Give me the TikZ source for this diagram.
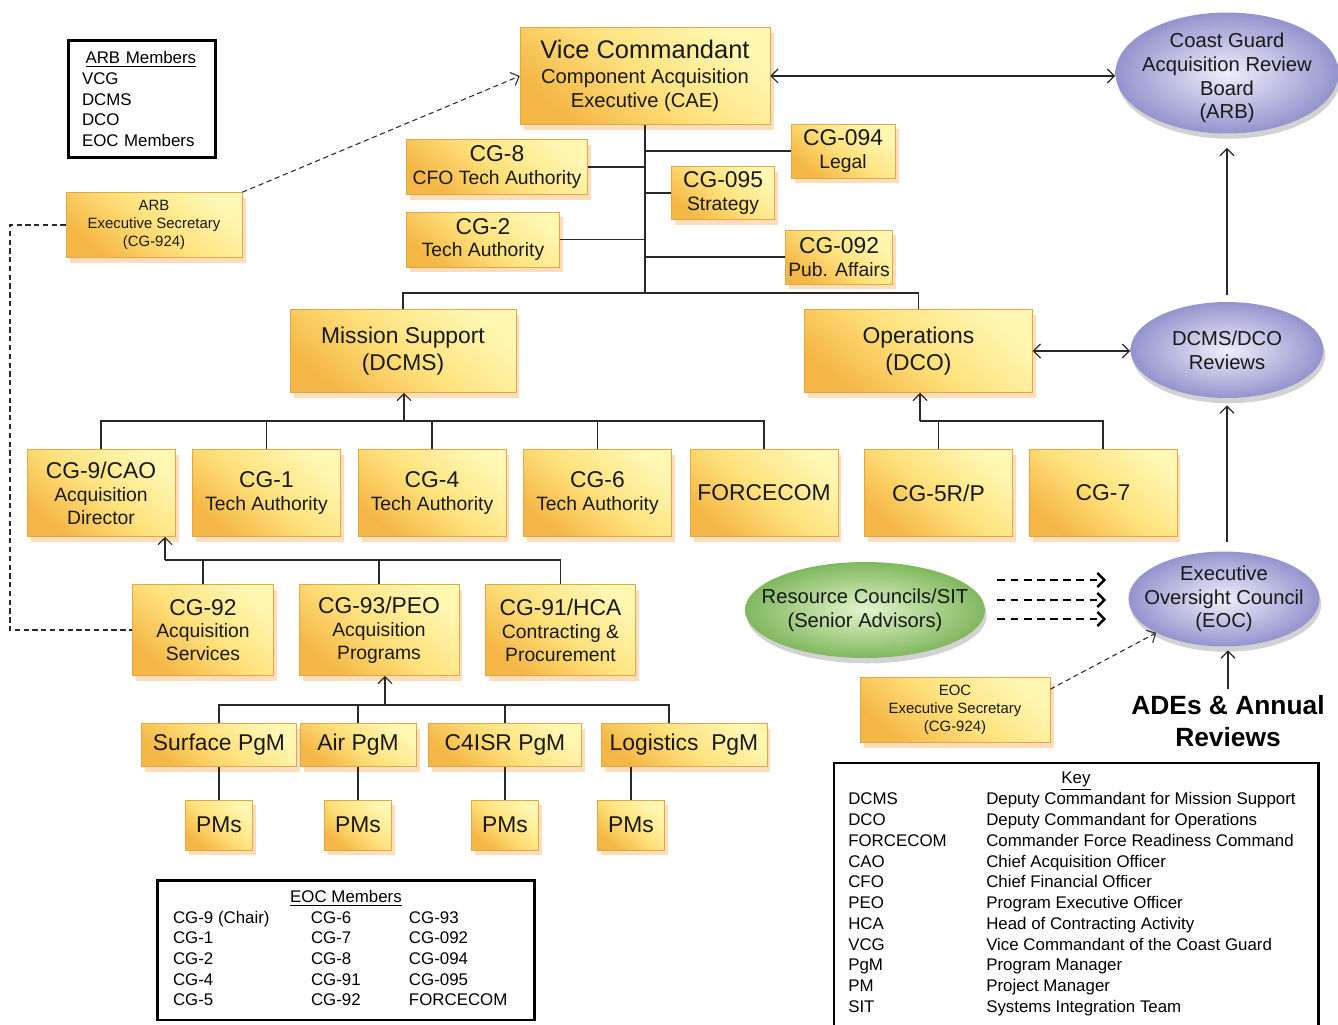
\documentclass[tikz,border=0pt]{standalone}
\usepackage{fontspec}
\setmainfont{Liberation Sans}
\usetikzlibrary{positioning,shapes.geometric,shadows,arrows.meta,calc}

\definecolor{boxlight}{RGB}{255,247,178}
\definecolor{boxmid}{RGB}{255,226,125}
\definecolor{boxdark}{RGB}{244,182,68}
\definecolor{boxedge}{RGB}{222,168,70}
\definecolor{ovallight}{RGB}{238,238,250}
\definecolor{ovaldark}{RGB}{148,148,206}
\definecolor{greenlight}{RGB}{226,244,204}
\definecolor{greendark}{RGB}{128,184,94}
\definecolor{linkgray}{RGB}{40,40,40}

\newcommand\orghead[1]{{\fontsize{13}{15}\selectfont #1}}

\tikzset{
  orgbox/.style={shade, top color=boxlight, bottom color=boxdark, middle color=boxmid,
    shading angle=-40, draw=boxedge, line width=0.3pt, align=center, inner sep=1pt,
    text=black!90, font=\fontsize{11}{13}\selectfont,
    drop shadow={shadow xshift=2pt, shadow yshift=-3pt, fill=orange!45, opacity=0.6}},
  secbox/.style={orgbox, font=\fontsize{8.5}{10.2}\selectfont},
  oval/.style={ellipse, inner sep=0pt, inner color=ovallight, outer color=ovaldark,
    drop shadow={shadow xshift=1pt, shadow yshift=-3pt, fill=black!35, opacity=0.5}},
  greenoval/.style={oval, inner color=greenlight, outer color=greendark},
  ovaltext/.style={align=center, inner sep=0pt, font=\fontsize{11.5}{13.5}\selectfont, text=black!90},
  legendbox/.style={draw=black, fill=white, inner sep=0pt, font=\fontsize{9.6}{11.8}\selectfont},
  link/.style={draw=linkgray, line width=0.7pt},
  dashlink/.style={draw=linkgray, line width=0.6pt, dash pattern=on 3pt off 2pt},
  heavydash/.style={draw=black, line width=1.4pt, dash pattern=on 4.5pt off 3pt},
}

\begin{document}
\begin{tikzpicture}[x=0.02cm, y=-0.02cm, >={Straight Barb[length=4pt,width=8pt]}]
\useasboundingbox (0,0) rectangle (1338,1024);

% top of the chain
\node[orgbox, minimum width=5cm, minimum height=1.94cm, font=\fontsize{11.5}{14}\selectfont] (vc) at (645,76)
  {{\fontsize{14.5}{17}\selectfont Vice Commandant}\\Component Acquisition\\Executive (CAE)};
\node[orgbox, minimum width=3.62cm, minimum height=1.1cm] (cg8) at (497,167) {\orghead{CG-8}\\CFO Tech Authority};
\node[orgbox, minimum width=3.06cm, minimum height=1.1cm, below=0.34cm of cg8.south west, anchor=north west] (cg2) {\orghead{CG-2}\\Tech Authority};
\node[orgbox, minimum width=2.08cm, minimum height=1.08cm] (cg094) at (843,151) {\orghead{CG-094}\\Legal};
\node[orgbox, minimum width=2.06cm, minimum height=1.06cm] (cg095) at (723,193) {\orghead{CG-095}\\Strategy};
\node[orgbox, minimum width=2.14cm, minimum height=1.08cm] (cg092) at (839,257) {\orghead{CG-092}\\Pub. Affairs};

\node[orgbox, minimum width=4.52cm, minimum height=1.66cm, font=\fontsize{13}{15.5}\selectfont] (ms) at (403,351) {Mission Support\\(DCMS)};
\node[orgbox, minimum width=4.56cm, minimum height=1.66cm, font=\fontsize{13}{15.5}\selectfont, right=5.76cm of ms] (ops) {Operations\\(DCO)};

% directorates
\tikzset{rowbox/.style={orgbox, minimum width=2.96cm, minimum height=1.74cm}}
\node[rowbox] (cg9) at (101,493) {\orghead{CG-9/CAO}\\Acquisition\\Director};
\node[rowbox, right=0.34cm of cg9] (cg1) {\orghead{CG-1}\\Tech Authority};
\node[rowbox, right=0.34cm of cg1] (cg4) {\orghead{CG-4}\\Tech Authority};
\node[rowbox, right=0.34cm of cg4] (cg6) {\orghead{CG-6}\\Tech Authority};
\node[rowbox, right=0.36cm of cg6] (fc) {\orghead{FORCECOM}};
\node[rowbox, right=0.52cm of fc] (cg5) {\orghead{CG-5R/P}};
\node[rowbox, right=0.32cm of cg5] (cg7) {\orghead{CG-7}};

% acquisition directorate
\node[orgbox, minimum width=2.82cm, minimum height=1.82cm] (cg92) at (203,630) {\orghead{CG-92}\\Acquisition\\Services};
\node[orgbox, minimum width=3.2cm, minimum height=1.82cm, right=0.5cm of cg92] (cg93) {\orghead{CG-93/PEO}\\Acquisition\\Programs};
\node[orgbox, minimum width=3cm, minimum height=1.82cm, right=0.52cm of cg93] (cg91) {\orghead{CG-91/HCA}\\Contracting \&\\Procurement};

% program managers
\tikzset{pgmbox/.style={orgbox, minimum height=0.86cm, font=\fontsize{13}{15}\selectfont}}
\node[pgmbox, minimum width=3.1cm] (sf) at (219,745) {Surface PgM};
\node[pgmbox, minimum width=2.32cm, right=0.06cm of sf] (air) {Air PgM};
\node[pgmbox, minimum width=3.06cm, right=0.24cm of air] (c4) {C4ISR PgM};
\node[pgmbox, minimum width=3.32cm, right=0.38cm of c4] (lg) {Logistics\ \ PgM};

\tikzset{pmbox/.style={orgbox, minimum width=1.34cm, minimum height=1cm, font=\fontsize{13}{15}\selectfont}}
\node[pmbox, below=0.66cm of sf] (pm1) {PMs};
\node[pmbox, below=0.66cm of air] (pm2) {PMs};
\node[pmbox, below=0.66cm of c4] (pm3) {PMs};
\node[pmbox] (pm4) at (631,825) {PMs};

% secretaries
\node[secbox, minimum width=3.52cm, minimum height=1.3cm] (arbsec) at (154,225) {ARB\\Executive Secretary\\(CG-924)};
\node[secbox, minimum width=3.8cm, minimum height=1.3cm] (eocsec) at (955,710) {EOC\\Executive Secretary\\(CG-924)};

% review bodies
\node[oval, minimum width=4.46cm, minimum height=2.42cm,
  label={[ovaltext, yshift=-0.1cm]center:{Coast Guard\\Acquisition Review\\Board\\(ARB)}}] (arb) at (1227,73) {};
\node[oval, minimum width=3.86cm, minimum height=1.92cm,
  label={[ovaltext]center:{DCMS/DCO\\Reviews}}] (dcmsrev) at (1227,350) {};
\node[oval, minimum width=3.82cm, minimum height=1.9cm,
  label={[ovaltext]center:{Executive\\Oversight Council\\(EOC)}}] (eoc) at (1224,599) {};
\node[greenoval, minimum width=4.8cm, minimum height=1.92cm,
  label={[ovaltext]center:{Resource Councils/SIT\\(Senior Advisors)}}] (rc) at (865,610) {};
\node[align=center, font=\bfseries\fontsize{15}{18}\selectfont] (ades) at (1228,721) {ADEs \& Annual\\Reviews};

% member lists
\node[legendbox, line width=1.7pt, minimum width=2.96cm, minimum height=2.36cm, text width=2.4cm, align=left] (arbmem) at (142,99)
  {\hspace*{2pt}\underline{ARB Members}\\VCG\\DCMS\\DCO\\EOC Members};
\node[legendbox, line width=1.7pt, minimum width=7.54cm, minimum height=2.8cm] (eocmem) at (346,950)
  {\begin{tabular}{@{}p{2.76cm}@{}p{1.96cm}@{}p{2.2cm}@{}}
   \multicolumn{3}{c}{\underline{EOC Members}}\\
   CG-9 (Chair) & CG-6 & CG-93\\
   CG-1 & CG-7 & CG-092\\
   CG-2 & CG-8 & CG-094\\
   CG-4 & CG-91 & CG-095\\
   CG-5 & CG-92 & FORCECOM
   \end{tabular}};
\node[legendbox, line width=1.2pt, minimum width=9.7cm, minimum height=5.4cm, anchor=north] (key) at (1076,762)
  {\begin{tabular}{@{}p{2.76cm}@{}p{6.35cm}@{}}
   \multicolumn{2}{c}{\underline{Key}}\\
   DCMS & Deputy Commandant for Mission Support\\
   DCO & Deputy Commandant for Operations\\
   FORCECOM & Commander Force Readiness Command\\
   CAO & Chief Acquisition Officer\\
   CFO & Chief Financial Officer\\
   PEO & Program Executive Officer\\
   HCA & Head of Contracting Activity\\
   VCG & Vice Commandant of the Coast Guard\\
   PgM & Program Manager\\
   PM & Project Manager\\
   SIT & Systems Integration Team\\[5pt]
   \end{tabular}};

% staff lines off the VCG
\coordinate (trunk) at (645,293);
\draw[link] (vc.south) -- (trunk);
\draw[link] (cg8.east) -- (cg8.east -| trunk);
\draw[link] (cg2.east) -- (cg2.east -| trunk);
\draw[link] (cg094.west) -- (cg094.west -| trunk);
\draw[link] (cg095.west) -- (cg095.west -| trunk);
\draw[link] (cg092.west) -- (cg092.west -| trunk);
\draw[link] (ms.north) |- (trunk) -| (ops.north);

% DCMS and DCO directorates
\coordinate (msbar) at (404,421);
\draw[link,->] (msbar) -- (msbar |- ms.south);
\draw[link] (cg9.north) |- (msbar) -| (fc.north);
\foreach \n in {cg1,cg4,cg6}
  \draw[link] (\n.north) -- (\n.north |- msbar);
\coordinate (opsbar) at (920,421);
\draw[link,->] (opsbar) -- (opsbar |- ops.south);
\draw[link] (opsbar) -| (cg7.north);
\draw[link] (cg5.north) -- (cg5.north |- opsbar);

% CG-9 offices
\coordinate (acqbar) at (165,560);
\draw[link,->] (acqbar) -- (acqbar |- cg9.south);
\draw[link] (acqbar) -| (cg91.north);
\foreach \n in {cg92,cg93}
  \draw[link] (\n.north) -- (\n.north |- acqbar);

% program managers
\coordinate (pgmbar) at (385,705);
\draw[link,->] (pgmbar) -- (pgmbar |- cg93.south);
\draw[link] (sf.north) |- (pgmbar) -| ([xshift=-0.3cm]lg.north);
\foreach \n in {air,c4}
  \draw[link] (\n.north) -- (\n.north |- pgmbar);
\foreach \p/\g in {pm1/sf, pm2/air, pm3/c4, pm4/lg}
  \draw[link] (\p.north) -- (\p.north |- \g.south);

% review chain
\draw[link,<->] (vc.east) -- (vc.east -| arb.west);
\draw[link,<->] (ops.east) -- (ops.east -| dcmsrev.west);
\draw[link,->,shorten >=8pt] ([yshift=0.14cm]dcmsrev.north) -- (arb.south);
\draw[link,->,shorten >=4pt] ([yshift=0.18cm]eoc.north -| dcmsrev.south) -- (dcmsrev.south);
\draw[link,->,shorten >=2pt] (ades.north) -- (ades.north |- eoc.south);
\foreach \dy in {-30,-10,9}
  \draw[heavydash,->] ($(rc.east)+(12,\dy)$) -- ($(eoc.west)+(-22,\dy+11)$);

% secretaries
\draw[dashlink,->] (arbsec.north east) -- (vc.west);
\coordinate (sideline) at (10,630);
\draw[dashlink] (arbsec.west) -| (sideline) -- (cg92.west);
\draw[dashlink,->] ([yshift=-0.24cm]eocsec.north east) -- (eoc.south west);
\end{tikzpicture}
\end{document}
